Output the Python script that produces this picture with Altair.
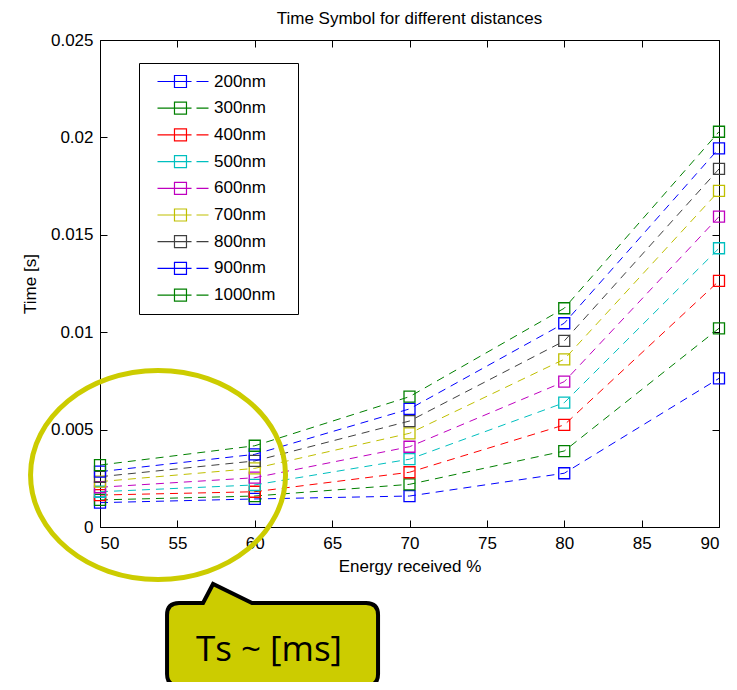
import altair as alt
import pandas as pd

FONT = "Liberation Sans"

# ---- data ----
energy = [50, 60, 70, 80, 90]
distances = ["200nm", "300nm", "400nm", "500nm", "600nm",
             "700nm", "800nm", "900nm", "1000nm"]
t_200 = [0.00125, 0.00144, 0.00159, 0.00276, 0.00763]
t_300 = [0.00139, 0.00159, 0.00219, 0.00390, 0.01020]
t_400 = [0.00164, 0.00181, 0.00281, 0.00524, 0.01263]
t_500 = [0.00181, 0.00216, 0.00348, 0.00638, 0.01431]
t_600 = [0.00204, 0.00253, 0.00412, 0.00746, 0.01593]
t_700 = [0.00233, 0.00301, 0.00481, 0.00861, 0.01725]
t_800 = [0.00258, 0.00339, 0.00544, 0.00955, 0.01838]
t_900 = [0.00284, 0.00373, 0.00606, 0.01046, 0.01944]
t_1000 = [0.00318, 0.00417, 0.00669, 0.01123, 0.02029]
series = [t_200, t_300, t_400, t_500, t_600, t_700, t_800, t_900, t_1000]

colors = ["#0000ff", "#008000", "#ff0000", "#00bfbf", "#bf00bf",
          "#bfbf00", "#404040", "#0000ff", "#008000"]

x_ticks = [50, 55, 60, 65, 70, 75, 80, 85, 90]
y_ticks = [0, 0.005, 0.01, 0.015, 0.02, 0.025]

# annotation anchors (data coordinates)
ellipse_x = [53.75]
ellipse_y = [0.00267]
callout_x = [61.15]
callout_y = [-0.00603]
callout_label = ["Ts ~ [ms]"]
callout_text_x = [60.92]
callout_text_y = [-0.00688]

rows = []
for name, vals in zip(distances, series):
    for e, v in zip(energy, vals):
        rows.append({"energy": e, "distance": name, "time": v})
df = pd.DataFrame(rows)

ell_df = pd.DataFrame({"x": ellipse_x, "y": ellipse_y})
call_df = pd.DataFrame({"x": callout_x, "y": callout_y})
txt_df = pd.DataFrame({"x": callout_text_x, "y": callout_text_y, "t": callout_label})

xs = alt.Scale(domain=[50, 90], nice=False, zero=False)
ys = alt.Scale(domain=[0, 0.025], nice=False)

LEG_PATH = "M-1,0H4.67M5.5,0H7.5M1.83,-1H3.83V1H1.83Z"
ELLIPSE = ("M1.22,0C1.22,0.5523,0.6738,1,0,1C-0.6738,1,-1.22,0.5523,-1.22,0"
           "C-1.22,-0.5523,-0.6738,-1,0,-1C0.6738,-1,1.22,-0.5523,1.22,0Z")
CALLOUT = ("M-0.935,-0.415L-0.695,-0.415L-0.595,-0.605L-0.205,-0.415L0.935,-0.415"
           "Q1.055,-0.415,1.055,-0.295L1.055,0.295Q1.055,0.415,0.935,0.415"
           "L-0.935,0.415Q-1.055,0.415,-1.055,0.295L-1.055,-0.295"
           "Q-1.055,-0.415,-0.935,-0.415Z")

legend = alt.Legend(
    orient="none", legendX=39, legendY=23, title=None,
    symbolType=LEG_PATH, symbolSize=144, symbolStrokeWidth=1.2,
    symbolFillColor="transparent", symbolOffset=6, labelOffset=42,
    labelFont=FONT, labelFontSize=17, labelColor="black",
    strokeColor="black", fillColor="white", padding=10, rowPadding=8.7,
    labelExpr="datum.label + '\u2800'",
)
color = alt.Color("distance:N", scale=alt.Scale(domain=distances, range=colors),
                  sort=distances, legend=legend)

lines = alt.Chart(df).mark_line(strokeWidth=1, strokeDash=[8, 6]).encode(
    x=alt.X("energy:Q", scale=xs, title="Energy received %",
            axis=alt.Axis(orient="bottom", offset=-7, values=x_ticks, tickSize=7,
                          labelPadding=8, titlePadding=7, format="d")),
    y=alt.Y("time:Q", scale=ys, title="Time [s]",
            axis=alt.Axis(orient="left", offset=-7, values=y_ticks, tickSize=7,
                          labelPadding=7, titlePadding=11, format="~g")),
    color=color,
    detail="distance:N",
)

points = alt.Chart(df).mark_point(shape="square", filled=False, size=121,
                                  strokeWidth=1.3, opacity=1).encode(
    x=alt.X("energy:Q", scale=xs,
            axis=alt.Axis(orient="top", offset=-7, values=x_ticks, tickSize=7,
                          labels=False, title=None)),
    y=alt.Y("time:Q", scale=ys,
            axis=alt.Axis(orient="right", offset=-7, values=y_ticks, tickSize=7,
                          labels=False, title=None)),
    color=color,
)

ellipse = alt.Chart(ell_df).mark_point(shape=ELLIPSE, size=43681, filled=False,
                                       stroke="#cccc00", strokeWidth=5, opacity=1).encode(
    x=alt.X("x:Q", scale=xs, axis=None),
    y=alt.Y("y:Q", scale=ys, axis=None),
)

callout = alt.Chart(call_df).mark_point(shape=CALLOUT, size=40000, filled=True,
                                        fill="#cccc00", stroke="black",
                                        strokeWidth=4, opacity=1).encode(
    x=alt.X("x:Q", scale=xs, axis=None),
    y=alt.Y("y:Q", scale=ys, axis=None),
)

callout_txt = alt.Chart(txt_df).mark_text(font="Open Sans", fontSize=35, align="center",
                                          baseline="alphabetic", color="black").encode(
    x=alt.X("x:Q", scale=xs, axis=None),
    y=alt.Y("y:Q", scale=ys, axis=None),
    text="t:N",
)

chart = alt.layer(lines, points, ellipse, callout, callout_txt).resolve_axis(
    x="independent", y="independent"
).properties(
    width=619, height=487,
    title=alt.Title("Time Symbol for different distances", font=FONT, fontSize=17,
                    fontWeight="normal", color="black", offset=3),
    autosize=alt.AutoSizeParams(type="none"),
    padding={"left": 92, "top": 32, "right": 10, "bottom": 155},
    background="white",
).configure_view(stroke="black", strokeWidth=1).configure_axis(
    labelFont=FONT, labelFontSize=17, labelColor="black",
    titleFont=FONT, titleFontSize=17, titleFontWeight="normal", titleColor="black",
    tickColor="black", tickWidth=1, domain=False, grid=False,
)

chart.save("out.html", embed_options={"renderer": "svg", "actions": False})
